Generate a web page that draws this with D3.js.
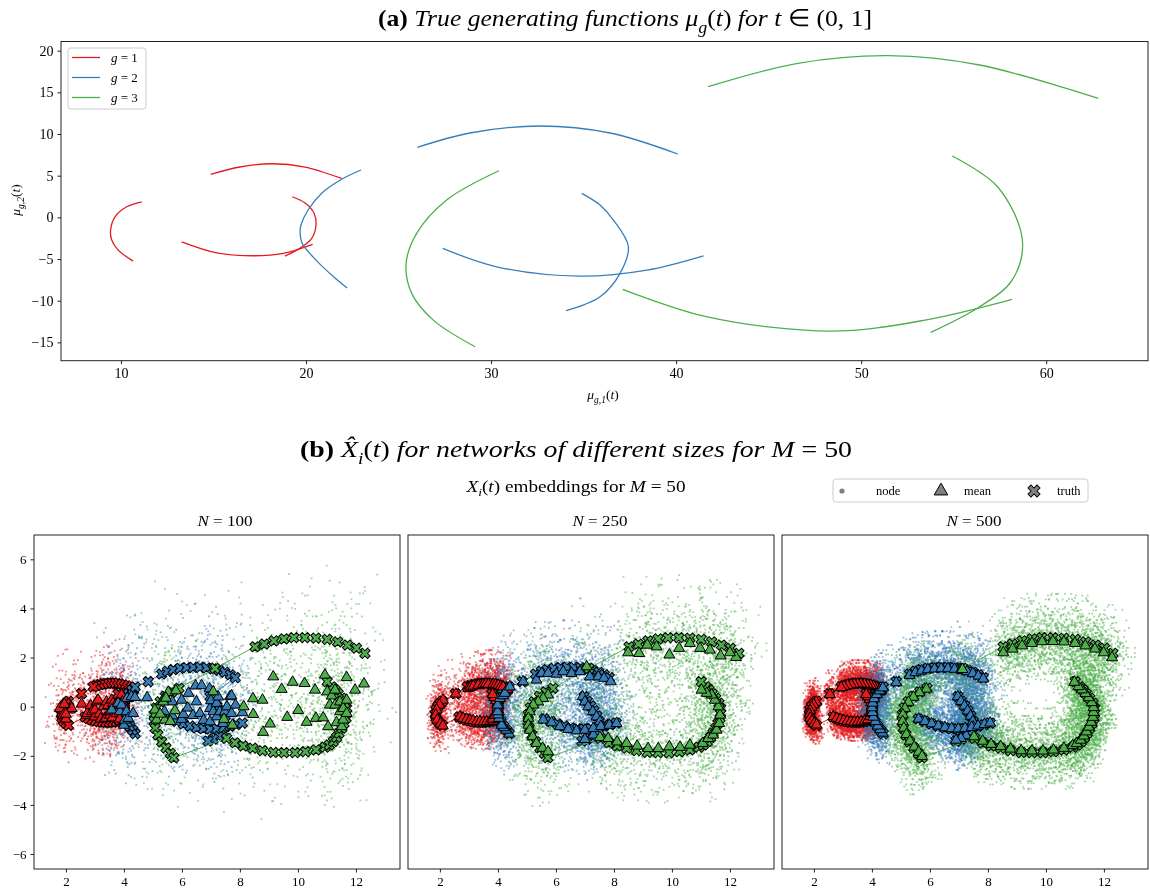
<!DOCTYPE html>
<html><head><meta charset="utf-8">
<script src="https://cdn.jsdelivr.net/npm/d3@7"></script>
<style>
body{margin:0;background:#fff;}
#wrap{position:relative;width:1150px;height:895px;background:#fff;}
#cv,#sv{position:absolute;left:0;top:0;}
</style></head><body><div id="wrap"><canvas id="cv" width="1150" height="895"></canvas><svg id="sv" width="1150" height="895"></svg></div>
<script>
// ---------------- DATA ----------------
const groupNames = ["g = 1", "g = 2", "g = 3"];
const groupColors = ["#e41a1c", "#377eb8", "#4daf4a"];

// (a) generating functions: curve pieces per group, [mu1, mu2]
const muRed = [
  [[11.12,1.87],[10.31,1.27],[9.68,0.07],[9.44,-1.52],[9.5,-2.72],[9.85,-3.93],[10.66,-5.25]],
  [[14.85,5.16],[16.43,6.04],[18.15,6.43],[19.95,6.04],[21.93,4.68]],
  [[19.26,2.47],[19.95,1.72],[20.43,0.52],[20.54,-0.92],[20.32,-2.48],[19.68,-3.69],[18.86,-4.65]],
  [[13.28,-2.93],[15.17,-4.25],[17.15,-4.61],[18.77,-4.33],[20.36,-3.24]]
];
const muBlue = [
  [[22.97,5.68],[21.95,4.6],[20.86,2.92],[20.11,0.88],[19.73,-0.92],[19.68,-1.76],[19.78,-3.09],[20.05,-3.93],[20.54,-5.13],[20.92,-5.97],[21.57,-7.29],[22.22,-8.49]],
  [[26.02,8.4],[28.86,10.12],[32.65,10.96],[36.43,10.12],[40.09,7.6]],
  [[34.9,2.88],[35.89,1.48],[36.61,-0.32],[37.42,-3.53],[36.97,-6.72],[35.89,-9.53],[34.05,-11.2]],
  [[27.39,-3.72],[30.3,-5.93],[34.81,-7.05],[38.42,-6.33],[41.48,-4.61]]
];
const muGreen = [
  [[30.43,5.59],[27.6,2.08],[25.98,-1.92],[25.41,-5.52],[25.71,-9.12],[26.88,-12.33],[29.14,-15.53]],
  [[41.73,15.68],[46.58,18.48],[51.49,19.4],[56.4,18.28],[62.81,14.28]],
  [[54.92,7.36],[57.37,3.67],[58.71,-2.72],[58.16,-7.53],[56.4,-10.73],[53.76,-13.81]],
  [[37.11,-8.64],[41.68,-11.93],[48.35,-13.65],[53.45,-12.33],[58.16,-9.84]]
];
const muXTicks = [10, 20, 30, 40, 50, 60];
const muYTicks = [-15, -10, -5, 0, 5, 10, 15, 20];

// (b) truth trajectories (same in all panels)
const truthRed = [[4.33,0.67],[4.27,0.74],[4.19,0.8],[4.09,0.85],[3.98,0.89],[3.86,0.92],[3.75,0.94],[3.63,0.96],[3.52,0.96],[3.4,0.95],[3.29,0.93],[3.17,0.9],[3.05,0.86],[2.94,0.81],
  [2.54,0.53],
  [2.09,0.22],[2.0,0.12],[1.92,0.0],[1.86,-0.14],[1.84,-0.3],[1.86,-0.45],[1.92,-0.58],[2.0,-0.68],[2.09,-0.76],
  [2.66,-0.42],[2.78,-0.49],[2.9,-0.54],[3.02,-0.58],[3.14,-0.61],[3.26,-0.63],[3.38,-0.64],[3.5,-0.64],[3.62,-0.63],[3.74,-0.61],[3.86,-0.58],[3.97,-0.53],
  [3.85,-0.55],[3.93,-0.42],[3.99,-0.28],[4.02,-0.13],[4.02,0.02],[3.99,0.17],[3.94,0.3],[3.87,0.42],[3.8,0.52]];
const truthBlue = [[4.39,-1.1],[4.3,-0.96],[4.2,-0.8],[4.11,-0.62],[4.04,-0.43],[4.0,-0.24],[3.99,-0.04],[4.01,0.15],[4.07,0.34],[4.16,0.52],[4.27,0.67],[4.39,0.8],
  [4.84,1.02],
  [5.3,1.33],[5.5,1.44],[5.7,1.51],[5.93,1.56],[6.16,1.59],[6.39,1.6],[6.62,1.6],[6.85,1.58],[7.07,1.54],[7.28,1.48],[7.48,1.4],[7.67,1.3],[7.84,1.18],
  [6.97,0.41],[7.08,0.22],[7.2,0.03],[7.31,-0.17],[7.41,-0.38],[7.49,-0.6],[7.5,-0.82],[7.42,-1.03],[7.26,-1.2],[7.08,-1.32],[6.9,-1.4],
  [5.6,-0.5],[5.82,-0.6],[6.05,-0.7],[6.28,-0.79],[6.51,-0.86],[6.74,-0.9],[6.97,-0.91],[7.2,-0.89],[7.43,-0.85],[7.65,-0.79],[7.87,-0.73],[8.08,-0.67]];
const truthGreen = [[12.31,2.17],[12.02,2.38],[11.71,2.51],[11.37,2.64],[11.01,2.74],[10.62,2.79],[10.24,2.81],[9.86,2.81],[9.52,2.76],[9.17,2.68],[8.84,2.55],[8.52,2.44],
  [7.14,1.56],
  [5.9,0.75],[5.65,0.6],[5.43,0.42],[5.25,0.2],[5.12,-0.05],[5.05,-0.32],[5.04,-0.6],[5.08,-0.88],[5.17,-1.15],[5.3,-1.43],[5.45,-1.68],[5.6,-1.9],[5.72,-2.08],
  [7.54,-1.29],[7.83,-1.47],[8.11,-1.6],[8.44,-1.69],[8.78,-1.79],[9.15,-1.86],[9.52,-1.87],[9.9,-1.87],[10.26,-1.83],[10.62,-1.76],[10.93,-1.65],
  [11.08,-1.56],[11.22,-1.42],[11.33,-1.25],[11.42,-1.08],[11.51,-0.88],[11.59,-0.68],[11.66,-0.47],[11.68,-0.27],[11.68,-0.07],[11.62,0.14],[11.51,0.34],[11.39,0.52],[11.28,0.68],[11.16,0.81],[11.01,1.02]];

// (b) estimated means, N = 100
const meanRed100 = [[1.79,-0.07],[1.91,-0.34],[2.0,-0.5],[2.14,-0.13],[2.2,-0.07],[1.95,0.1],[2.0,-0.3],[2.54,0.11],[2.71,-0.34],[2.74,-0.27],[2.85,0.05],[2.9,-0.2],[3.0,-0.41],[3.0,-0.13],[3.06,0.2],[3.11,0.27],[3.15,-0.3],[3.2,-0.5],[3.29,0.0],[3.34,-0.47],[3.38,-0.47],[3.4,0.2],[3.45,0.05],[3.52,-0.34],[3.52,-0.2],[3.58,0.27],[3.6,-0.45],[3.63,0.14],[3.69,-0.2],[3.75,0.14],[3.75,-0.27],[3.85,-0.5],[3.92,0.48],[3.95,0.2],[4.05,-0.1],[4.15,0.34]];
const meanBlue100 = [[3.58,-0.13],[3.8,0.14],[3.86,-0.2],[3.92,0.07],[4.0,-0.75],[4.03,-0.54],[4.09,-0.2],[4.11,0.34],[4.15,-0.47],[4.26,0.41],[4.32,-0.27],[4.38,0.38],[4.8,0.37],[5.36,0.31],[5.4,-0.2],[5.67,0.2],[5.67,-0.37],[5.99,0.27],[5.99,-0.51],[6.05,-0.31],[6.2,-0.05],[6.23,0.55],[6.38,-0.35],[6.47,0.85],[6.5,0.2],[6.62,-0.27],[6.68,0.86],[6.75,-0.55],[6.95,0.73],[6.97,-0.61],[6.97,-0.07],[7.0,0.25],[7.08,-0.2],[7.2,0.14],[7.2,-0.41],[7.25,0.4],[7.31,-0.2],[7.42,-0.68],[7.48,-0.2],[7.55,0.0],[7.66,0.41],[7.71,-0.27],[7.71,0.44],[7.85,0.07],[8.09,-0.24]];
const meanGreen100 = [[5.53,0.59],[5.79,0.65],[5.36,0.2],[5.07,-0.13],[5.13,-0.54],[5.41,-0.54],[5.76,-0.16],[5.25,-0.3],[5.6,-0.6],[5.45,0.35],[7.08,0.61],[7.45,-0.51],[7.74,-0.75],[8.13,0.0],[8.45,0.33],[8.78,0.27],[8.8,-1.04],[9.04,-0.7],[8.46,-0.31],[9.15,1.22],[9.44,0.71],[9.63,-0.43],[9.82,1.0],[10.01,-0.15],[10.23,0.95],[10.3,-0.63],[10.59,0.68],[10.62,-0.47],[10.87,-0.45],[10.93,1.29],[11.01,0.61],[11.04,-0.81],[11.1,0.07],[11.16,0.44],[11.28,0.68],[11.28,0.07],[11.33,-0.65],[11.45,0.2],[11.45,-0.2],[11.51,-0.81],[11.56,-0.07],[11.56,-0.54],[11.68,1.19],[11.68,0.27],[11.68,-0.27],[11.97,0.68],[12.28,0.93]];

// N = 250
const meanRed250 = [[2.11,0.27],[1.98,0.07],[1.89,-0.13],[1.86,-0.34],[1.91,-0.54],[2.02,-0.7],[2.1,-0.78],[2.55,0.52],[2.98,0.75],[3.06,0.8],[3.15,0.84],[3.32,0.88],[3.49,0.91],[3.58,0.93],[3.67,0.91],[3.84,0.91],[3.92,0.9],[4.01,0.88],[4.1,0.84],[4.18,0.81],[4.32,0.71],[2.69,-0.41],[2.8,-0.47],[2.92,-0.51],[3.04,-0.55],[3.15,-0.57],[3.27,-0.6],[3.38,-0.61],[3.5,-0.62],[3.61,-0.61],[3.73,-0.6],[3.84,-0.58],[4.01,-0.51],[3.82,-0.5],[3.9,-0.35],[3.96,-0.2],[3.98,-0.05],[3.97,0.1],[3.93,0.25],[3.88,0.38],[3.82,0.5]];
const meanBlue250 = [[4.39,-1.11],[4.28,-0.95],[4.2,-0.85],[4.13,-0.75],[4.03,-0.47],[4.0,-0.33],[3.99,-0.2],[3.99,0.07],[4.07,0.34],[4.18,0.45],[4.24,0.55],[4.41,0.81],[4.87,1.02],[5.33,1.09],[5.51,1.36],[5.73,1.36],[6.02,1.33],[6.25,1.43],[6.54,1.36],[6.83,1.43],[7.17,1.22],[7.46,1.22],[7.66,1.16],[7.89,1.02],[6.92,0.41],[7.0,0.2],[7.11,0.0],[7.27,-0.2],[7.4,-0.41],[7.52,-0.61],[7.58,-0.81],[7.49,-1.02],[7.29,-1.15],[7.0,-1.33],[5.56,-0.54],[5.85,-0.65],[6.14,-0.81],[6.42,-0.92],[6.71,-0.98],[7.0,-0.95],[7.29,-0.88],[7.55,-0.8],[7.84,-0.75],[8.09,-0.68]];
const meanGreen250 = [[12.21,2.01],[12.0,2.2],[11.68,2.07],[11.31,2.31],[10.97,2.38],[10.62,2.58],[10.25,2.38],[9.91,2.11],[9.47,2.44],[9.15,2.51],[8.87,2.17],[8.49,2.2],[7.06,1.63],[5.73,0.48],[5.56,0.34],[5.39,0.2],[5.22,0.07],[5.1,-0.2],[5.05,-0.47],[5.05,-0.75],[5.1,-0.95],[5.2,-1.22],[5.33,-1.49],[5.54,-1.69],[5.73,-1.83],[7.52,-1.25],[7.8,-1.29],[8.11,-1.43],[8.44,-1.49],[8.8,-1.6],[9.18,-1.7],[9.53,-1.7],[9.91,-1.63],[10.28,-1.65],[10.62,-1.56],[11.06,-1.49],[11.25,-1.29],[11.42,-1.15],[11.54,-0.95],[11.63,-0.68],[11.66,-0.34],[11.6,0.0],[11.48,0.27],[11.37,0.48],[11.2,0.55],[11.02,0.68]];

// N = 500
const meanRed500 = [[4.3,0.64],[4.24,0.72],[4.16,0.78],[4.06,0.83],[3.96,0.87],[3.85,0.9],[3.74,0.92],[3.62,0.93],[3.51,0.93],[3.39,0.92],[3.28,0.9],[3.16,0.87],[3.04,0.83],[2.94,0.78],[2.55,0.5],[2.08,0.19],[1.99,0.09],[1.92,-0.02],[1.87,-0.16],[1.85,-0.31],[1.87,-0.46],[1.93,-0.58],[2.01,-0.68],[2.09,-0.74],[2.67,-0.4],[2.79,-0.47],[2.91,-0.52],[3.03,-0.56],[3.15,-0.59],[3.27,-0.61],[3.39,-0.62],[3.51,-0.62],[3.63,-0.61],[3.75,-0.59],[3.86,-0.56],[3.96,-0.51],[3.86,-0.53],[3.93,-0.4],[3.98,-0.27],[4.0,-0.12],[4.0,0.03],[3.97,0.17],[3.92,0.3],[3.86,0.41],[3.8,0.5]];
const meanBlue500 = [[4.37,-1.07],[4.29,-0.93],[4.2,-0.78],[4.12,-0.6],[4.05,-0.42],[4.02,-0.23],[4.01,-0.04],[4.03,0.15],[4.08,0.33],[4.17,0.5],[4.27,0.65],[4.38,0.77],[4.84,0.98],[5.3,1.28],[5.5,1.39],[5.71,1.46],[5.93,1.51],[6.16,1.54],[6.39,1.55],[6.62,1.55],[6.85,1.53],[7.07,1.49],[7.28,1.43],[7.48,1.35],[7.67,1.25],[7.84,1.13],[6.96,0.41],[7.07,0.22],[7.19,0.03],[7.3,-0.17],[7.4,-0.38],[7.48,-0.6],[7.49,-0.82],[7.41,-1.02],[7.25,-1.18],[7.07,-1.29],[6.9,-1.36],[5.61,-0.5],[5.83,-0.6],[6.06,-0.69],[6.29,-0.78],[6.52,-0.85],[6.75,-0.89],[6.98,-0.9],[7.21,-0.88],[7.44,-0.84],[7.66,-0.78],[7.88,-0.72],[8.08,-0.66]];
const meanGreen500 = [[12.28,2.0],[11.99,2.2],[11.69,2.35],[11.36,2.48],[11.0,2.58],[10.62,2.64],[10.24,2.66],[9.87,2.65],[9.52,2.58],[9.18,2.48],[8.85,2.35],[8.53,2.2],[7.12,1.52],[5.88,0.72],[5.64,0.57],[5.43,0.39],[5.26,0.18],[5.14,-0.07],[5.07,-0.33],[5.06,-0.6],[5.1,-0.87],[5.19,-1.13],[5.31,-1.4],[5.46,-1.64],[5.61,-1.85],[5.73,-2.02],[7.52,-1.22],[7.82,-1.4],[8.11,-1.53],[8.44,-1.62],[8.78,-1.72],[9.15,-1.79],[9.52,-1.8],[9.9,-1.8],[10.26,-1.76],[10.62,-1.69],[10.92,-1.58],[11.06,-1.5],[11.2,-1.36],[11.31,-1.19],[11.4,-1.02],[11.48,-0.83],[11.56,-0.63],[11.62,-0.43],[11.64,-0.23],[11.64,-0.03],[11.58,0.17],[11.47,0.37],[11.36,0.54],[11.24,0.69],[11.12,0.82],[10.98,1.0]];

// node clouds: nodes per time point, spread per panel & group,
// and a fixed hand-typed table of standardised offsets
const panelN = [100, 250, 500];
const nodesPerMean = [33, 83, 167];
const nodeSpreadX = [[0.25, 0.4, 0.5], [0.14, 0.3, 0.4], [0.1, 0.22, 0.3]];
const nodeSpreadY = [[0.8, 1.2, 1.6], [0.5, 0.75, 1.0], [0.35, 0.55, 0.7]];
const offsetX = [0.12,-1.35,0.67,-0.22,1.84,-0.78,0.05,-0.49,1.12,-1.96,0.38,0.91,-0.63,-0.07,1.46,-1.08,0.26,-0.31,2.21,-0.88,0.54,-1.52,0.73,-0.15,1.01,-0.41,-2.34,0.19,0.85,-0.96,1.63,-0.27,0.44,-1.19,0.02,1.28,-0.58,-1.71,0.61,0.33,-0.11,1.95,-0.83,0.47,-0.36,-1.27,0.79,0.09,-0.69,1.37,-0.52,2.62,-1.43,0.29,-0.04,0.96,-0.92,1.18,-0.19,0.57,-2.05];
const offsetY = [-0.44,0.93,-1.61,0.18,1.27,-0.72,0.51,-0.09,-1.14,2.03,-0.35,0.66,1.49,-0.97,0.03,-1.88,0.81,-0.24,0.39,-0.61,1.08,-1.33,0.14,2.46,-0.53,0.72,-0.16,-1.02,1.71,0.27,-0.81,-2.21,0.48,1.19,-0.39,0.08,-0.67,1.56,-1.24,0.35,0.94,-0.12,-1.49,0.62,1.87,-0.28,-0.89,0.21,-0.05,1.33,-1.76,0.57,-0.47,2.78,-0.74,0.16,1.02,-1.07,-0.33];

const embXTicks = [2, 4, 6, 8, 10, 12];
const embYTicks = [-6, -4, -2, 0, 2, 4, 6];
const legendLabels = ["node", "mean", "truth"];

// ---------------- DRAWING ----------------
const SERIF = "'Liberation Serif','Times New Roman',serif";
const svg = d3.select("#sv");
const ctx = document.getElementById("cv").getContext("2d");

function rich(sel, x, y, size, anchor, parts, rotate, fitWidth) {
  const t = sel.append("text").attr("font-size", size).attr("text-anchor", anchor)
    .attr("font-family", SERIF).attr("fill", "#000");
  if (rotate) t.attr("transform", `translate(${x},${y}) rotate(${rotate})`);
  else t.attr("x", x).attr("y", y);
  let cur = 0;
  parts.forEach(p => {
    const sp = t.append("tspan").text(p.t);
    const shift = p.sub ? size * 0.28 : 0;
    if (shift !== cur) { sp.attr("dy", shift - cur); cur = shift; }
    if (p.sub) sp.attr("font-size", size * 0.7);
    if (p.i) sp.attr("font-style", "italic");
    if (p.b) sp.attr("font-weight", "bold");
  });
  if (fitWidth) t.attr("textLength", fitWidth).attr("lengthAdjust", "spacingAndGlyphs");
  return t;
}

// ======== Panel (a) ========
const A = {l: 61, r: 1148, t: 41.5, b: 360.7};
const xA = d3.scaleLinear().domain([6.76, 65.5]).range([A.l, A.r]);
const yA = d3.scaleLinear().domain([-17.2, 21.1]).range([A.b, A.t]);
const gA = svg.append("g");
svg.append("clipPath").attr("id", "clipA").append("rect")
  .attr("x", A.l).attr("y", A.t).attr("width", A.r - A.l).attr("height", A.b - A.t);

const lineA = d3.line().x(d => xA(d[0])).y(d => yA(d[1])).curve(d3.curveCatmullRom.alpha(0.5));
[muRed, muBlue, muGreen].forEach((pieces, gi) => {
  gA.append("g").attr("clip-path", "url(#clipA)").selectAll("path").data(pieces).join("path")
    .attr("d", lineA).attr("fill", "none").attr("stroke", groupColors[gi]).attr("stroke-width", 1.3);
});
gA.append("rect").attr("x", A.l).attr("y", A.t).attr("width", A.r - A.l).attr("height", A.b - A.t)
  .attr("fill", "none").attr("stroke", "#222").attr("stroke-width", 1);

const axA_x = gA.append("g").attr("transform", `translate(0,${A.b})`)
  .call(d3.axisBottom(xA).tickValues(muXTicks).tickSize(3.5).tickSizeOuter(0).tickPadding(4));
const axA_y = gA.append("g").attr("transform", `translate(${A.l},0)`)
  .call(d3.axisLeft(yA).tickValues(muYTicks).tickSize(3.5).tickSizeOuter(0).tickPadding(4));
[axA_x, axA_y].forEach(a => {
  a.select(".domain").remove();
  a.selectAll("text").attr("font-family", SERIF).attr("font-size", 14).attr("fill", "#000");
  a.selectAll("line").attr("stroke", "#222");
});

// axis labels
rich(gA, 603, 399, 13.5, "middle", [{t: "μ", i: 1}, {t: "g,1", i: 1, sub: 1}, {t: "(", }, {t: "t", i: 1}, {t: ")"}]);
rich(gA, 20, 200, 13.5, "middle", [{t: "μ", i: 1}, {t: "g,2", i: 1, sub: 1}, {t: "("}, {t: "t", i: 1}, {t: ")"}], -90);

// legend (a)
const legA = gA.append("g");
legA.append("rect").attr("x", 68).attr("y", 48).attr("width", 78).attr("height", 61).attr("rx", 3)
  .attr("fill", "#fff").attr("fill-opacity", 0.85).attr("stroke", "#ccc").attr("stroke-width", 1);
groupNames.forEach((nm, i) => {
  const yy = 57.5 + i * 20;
  legA.append("line").attr("x1", 72).attr("x2", 100).attr("y1", yy).attr("y2", yy)
    .attr("stroke", groupColors[i]).attr("stroke-width", 1.3);
  const parts = nm.split(" = ");
  rich(legA, 111, yy + 4.5, 13, "start", [{t: parts[0], i: 1}, {t: " = " + parts[1]}]);
});

// title (a)
rich(svg, 625, 26, 24, "middle", [
  {t: "(a)", b: 1}, {t: " True generating functions ", i: 1}, {t: "μ", i: 1}, {t: "g", i: 1, sub: 1},
  {t: "("}, {t: "t", i: 1}, {t: ")"}, {t: " for ", i: 1}, {t: "t", i: 1}, {t: " ∈ (0, 1]"}
], null, 494);

// ======== Panel (b) ========
rich(svg, 576, 457, 24, "middle", [
  {t: "(b)", b: 1}, {t: " X\u0302", i: 1}, {t: "i", i: 1, sub: 1}, {t: "("}, {t: "t", i: 1}, {t: ")"},
  {t: " for networks of different sizes for ", i: 1}, {t: "M", i: 1}, {t: " = 50"}
], null, 552);
rich(svg, 576, 492, 16, "middle", [
  {t: "X", i: 1}, {t: "i", i: 1, sub: 1}, {t: "("}, {t: "t", i: 1}, {t: ")"}, {t: " embeddings for "}, {t: "M", i: 1}, {t: " = 50"}
], null, 219);

// legend (b)
const legB = svg.append("g");
legB.append("rect").attr("x", 833).attr("y", 479).attr("width", 255).attr("height", 23).attr("rx", 3)
  .attr("fill", "#fff").attr("stroke", "#ccc").attr("stroke-width", 1);
const triSym = d3.symbol(d3.symbolTriangle);
const xSym = d3.symbol(d3.symbolCross);
legB.append("circle").attr("cx", 842).attr("cy", 491).attr("r", 2.6).attr("fill", "#808080");
legB.append("path").attr("d", triSym.size(80)()).attr("transform", "translate(941,491)")
  .attr("fill", "#808080").attr("stroke", "#000").attr("stroke-width", 1);
legB.append("path").attr("d", xSym.size(90)()).attr("transform", "translate(1034,491) rotate(45)")
  .attr("fill", "#808080").attr("stroke", "#000").attr("stroke-width", 1);
[[876, legendLabels[0]], [964, legendLabels[1]], [1057, legendLabels[2]]].forEach(([x, t]) => {
  rich(legB, x, 495, 12.5, "start", [{t}]);
});

const P = {t: 535, b: 869, w: 366};
const panelX0 = [34, 408, 782];
const titleCx = [225, 600, 974];
const meanSets = [
  [meanRed100, meanBlue100, meanGreen100],
  [meanRed250, meanBlue250, meanGreen250],
  [meanRed500, meanBlue500, meanGreen500]
];
const truthSets = [truthRed, truthBlue, truthGreen];

panelX0.forEach((x0, pi) => {
  const xs = d3.scaleLinear().domain([0.9, 13.52]).range([x0, x0 + P.w]);
  const ys = d3.scaleLinear().domain([-6.61, 6.99]).range([P.b, P.t]);

  // nodes (canvas)
  ctx.save();
  ctx.beginPath(); ctx.rect(x0, P.t, P.w, P.b - P.t); ctx.clip();
  meanSets[pi].forEach((means, gi) => {
    ctx.fillStyle = groupColors[gi];
    ctx.globalAlpha = 0.5;
    const n = nodesPerMean[pi], sx = nodeSpreadX[pi][gi], sy = nodeSpreadY[pi][gi];
    means.forEach((m, i) => {
      for (let k = 0; k < n; k++) {
        const ox = offsetX[(k * 7 + i * 3 + gi * 13) % offsetX.length];
        const oy = offsetY[(k * 11 + i * 5 + gi * 17) % offsetY.length];
        const px = xs(m[0] + sx * ox), py = ys(m[1] + sy * oy);
        ctx.fillRect(px - 0.9, py - 0.9, 1.8, 1.8);
      }
    });
  });
  ctx.restore();

  const g = svg.append("g");
  const cid = "clipP" + pi;
  svg.append("clipPath").attr("id", cid).append("rect")
    .attr("x", x0).attr("y", P.t).attr("width", P.w).attr("height", P.b - P.t);
  const inner = g.append("g").attr("clip-path", `url(#${cid})`);
  const ln = d3.line().x(d => xs(d[0])).y(d => ys(d[1]));
  truthSets.forEach((tr, gi) => {
    inner.append("path").attr("d", ln(tr)).attr("fill", "none")
      .attr("stroke", groupColors[gi]).attr("stroke-width", 1);
    inner.append("g").selectAll("path").data(tr).join("path")
      .attr("d", xSym.size(66)())
      .attr("transform", d => `translate(${xs(d[0])},${ys(d[1])}) rotate(45)`)
      .attr("fill", groupColors[gi]).attr("stroke", "#000").attr("stroke-width", 1);
  });
  meanSets[pi].forEach((means, gi) => {
    inner.append("g").selectAll("path").data(means).join("path")
      .attr("d", triSym.size(52)())
      .attr("transform", d => `translate(${xs(d[0])},${ys(d[1])})`)
      .attr("fill", groupColors[gi]).attr("stroke", "#000").attr("stroke-width", 1);
  });

  g.append("rect").attr("x", x0).attr("y", P.t).attr("width", P.w).attr("height", P.b - P.t)
    .attr("fill", "none").attr("stroke", "#222").attr("stroke-width", 1);
  const axx = g.append("g").attr("transform", `translate(0,${P.b})`)
    .call(d3.axisBottom(xs).tickValues(embXTicks).tickSize(3.5).tickSizeOuter(0).tickPadding(4));
  axx.select(".domain").remove();
  axx.selectAll("text").attr("font-family", SERIF).attr("font-size", 13).attr("fill", "#000");
  axx.selectAll("line").attr("stroke", "#222");
  if (pi === 0) {
    const axy = g.append("g").attr("transform", `translate(${x0},0)`)
      .call(d3.axisLeft(ys).tickValues(embYTicks).tickSize(3.5).tickSizeOuter(0).tickPadding(4));
    axy.select(".domain").remove();
    axy.selectAll("text").attr("font-family", SERIF).attr("font-size", 13).attr("fill", "#000");
    axy.selectAll("line").attr("stroke", "#222");
  }
  rich(g, titleCx[pi], 526, 14.5, "middle", [{t: "N", i: 1}, {t: " = " + panelN[pi]}], null, 55);
});
</script></body></html>
